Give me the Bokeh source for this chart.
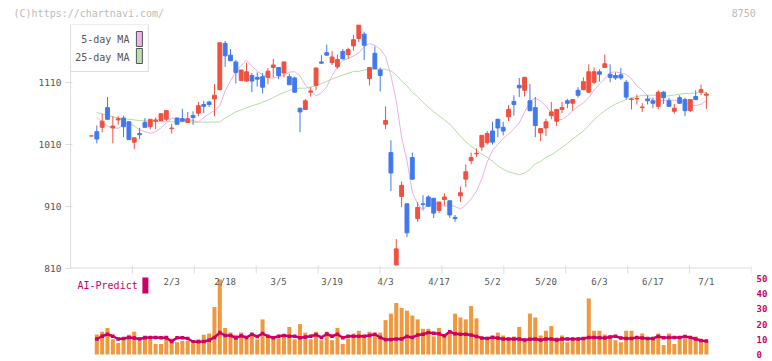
import numpy as np
import pandas as pd
from bokeh.plotting import figure
from bokeh.models import Range1d, LinearAxis, FixedTicker, Span, ColumnDataSource
from bokeh.core.properties import value
from bokeh.embed import file_html
from bokeh.resources import INLINE

nan = float("nan")

# ---------------- data ----------------
dates = ["1/10", "1/14", "1/15", "1/16", "1/17", "1/20", "1/21", "1/22", "1/23", "1/24",
         "1/27", "1/28", "1/29", "1/30", "1/31", "2/3", "2/4", "2/5", "2/6", "2/7",
         "2/10", "2/12", "2/13", "2/14", "2/17", "2/18", "2/19", "2/20", "2/21", "2/25",
         "2/26", "2/27", "2/28", "3/3", "3/4", "3/5", "3/6", "3/7", "3/10", "3/11",
         "3/12", "3/13", "3/14", "3/17", "3/18", "3/19", "3/21", "3/24", "3/25", "3/26",
         "3/27", "3/28", "3/31", "4/1", "4/2", "4/3", "4/4", "4/7", "4/8", "4/9",
         "4/10", "4/11", "4/14", "4/15", "4/16", "4/17", "4/18", "4/21", "4/22", "4/23",
         "4/24", "4/25", "4/28", "4/30", "5/1", "5/2", "5/7", "5/8", "5/9", "5/12",
         "5/13", "5/14", "5/15", "5/16", "5/19", "5/20", "5/21", "5/22", "5/23", "5/26",
         "5/27", "5/28", "5/29", "5/30", "6/2", "6/3", "6/4", "6/5", "6/6", "6/9",
         "6/10", "6/11", "6/12", "6/13", "6/16", "6/17", "6/18", "6/19", "6/20", "6/23",
         "6/24", "6/25", "6/26", "6/27", "6/30", "7/1"]

opens = [1024, 1031, 1038, 1070, 1037, 1050, 1053, 1047, 1014, 1028,
         1046, 1039, 1048, 1049, 1051, 1036, 1053, 1052, 1046, 1057,
         1061, 1075, 1079, 1084, 1099, 1174, 1155, 1144, 1114, 1113,
         1122, 1119, 1120, 1119, 1135, 1135, 1126, 1120, 1118, 1069,
         1067, 1095, 1106, 1144, 1159, 1143, 1136, 1161, 1156, 1170,
         1182, 1189, 1117, 1158, 1131, 1043, 997, 815, 926, 914,
         989, 890, 914, 925, 923, 903, 921, 919, 892, 927,
         954, 984, 995, 1006, 1013, 1032, 1051, 1038, 1055, 1080,
         1106, 1098, 1081, 1070, 1029, 1037, 1057, 1048, 1067, 1081,
         1077, 1098, 1099, 1095, 1111, 1128, 1135, 1124, 1122, 1123,
         1111, 1083, 1084, 1070, 1084, 1081, 1072, 1095, 1081, 1064,
         1086, 1083, 1065, 1088, 1095, 1090]

highs = [1024, 1041, 1060, 1087, 1056, 1056, 1057, 1048, 1021, 1037,
         1053, 1051, 1054, 1061, 1065, 1044, 1054, 1068, 1063, 1064,
         1079, 1081, 1081, 1108, 1175, 1178, 1165, 1147, 1131, 1143,
         1126, 1127, 1126, 1134, 1149, 1135, 1144, 1125, 1120, 1069,
         1084, 1103, 1135, 1155, 1172, 1162, 1156, 1165, 1167, 1188,
         1204, 1193, 1136, 1169, 1135, 1072, 1017, 857, 950, 914,
         997, 917, 928, 928, 923, 917, 931, 919, 896, 942,
         978, 997, 1004, 1025, 1032, 1047, 1052, 1047, 1074, 1090,
         1118, 1119, 1108, 1087, 1036, 1052, 1079, 1068, 1079, 1084,
         1083, 1103, 1119, 1140, 1135, 1132, 1156, 1140, 1127, 1134,
         1115, 1086, 1091, 1077, 1090, 1086, 1098, 1097, 1086, 1076,
         1090, 1086, 1083, 1098, 1107, 1095]

lows = [1024, 1012, 1030, 1051, 1012, 1042, 1022, 1018, 1003, 1019,
        1038, 1035, 1035, 1048, 1048, 1028, 1042, 1047, 1045, 1042,
        1056, 1061, 1071, 1056, 1098, 1136, 1145, 1109, 1113, 1112,
        1095, 1104, 1093, 1108, 1119, 1116, 1119, 1107, 1094, 1030,
        1066, 1088, 1098, 1141, 1154, 1139, 1133, 1148, 1149, 1162,
        1176, 1147, 1106, 1132, 1096, 1035, 935, 814, 909, 860,
        953, 885, 905, 909, 891, 899, 911, 891, 885, 917,
        941, 978, 990, 1000, 1010, 1010, 1022, 1025, 1048, 1057,
        1087, 1088, 1064, 1022, 1016, 1024, 1051, 1040, 1061, 1069,
        1065, 1086, 1098, 1094, 1108, 1112, 1134, 1111, 1115, 1115,
        1083, 1067, 1075, 1063, 1075, 1069, 1067, 1076, 1072, 1060,
        1076, 1056, 1063, 1082, 1090, 1068]

closes = [1024, 1019, 1048, 1051, 1040, 1052, 1039, 1018, 1021, 1026,
          1038, 1051, 1050, 1060, 1065, 1037, 1043, 1048, 1052, 1054,
          1073, 1072, 1075, 1090, 1175, 1154, 1146, 1127, 1131, 1128,
          1113, 1116, 1103, 1129, 1139, 1122, 1144, 1107, 1095, 1063,
          1081, 1097, 1134, 1142, 1155, 1152, 1148, 1149, 1164, 1180,
          1204, 1171, 1135, 1133, 1122, 1049, 964, 841, 944, 867,
          954, 908, 913, 910, 899, 917, 925, 896, 890, 932,
          966, 989, 996, 1025, 1028, 1014, 1037, 1032, 1067, 1075,
          1102, 1119, 1065, 1041, 1036, 1047, 1063, 1067, 1070, 1077,
          1083, 1090, 1112, 1128, 1128, 1124, 1141, 1119, 1118, 1118,
          1087, 1084, 1085, 1071, 1081, 1077, 1095, 1086, 1072, 1069,
          1077, 1065, 1083, 1083, 1099, 1092]

volume = [nan,
          13.1, 15, 17.5, 10, 7.5, 10, 13, 15, 8.8, 12.5,
          10, 6.9, 6.9, 12.5, 10.6, 8.1, 8.8, 8.8, 6.9, 10,
          13, 13.8, 31.3, 49.4, 17.5, 14.4, 13, 14.4, 11.2, 13.8,
          10, 23.1, 12.5, 11.2, 10.6, 13, 18.1, 10, 20, 14.4,
          10, 15, 9.4, 15, 9.4, 17.5, 6.9, 10.6, 13.8, 15.6,
          11.5, 15, 12.8, 14.4, 22.6, 26.9, 33.9, 30.6, 28.8, 25.6,
          23.1, 16.9, 16.9, 11.9, 17.5, 13.1, 15, 26.9, 24.4, 23.1,
          31.9, 23.8, 10, 10, 12.5, 14.4, 12.5, 10, 11.9, 18.1,
          8.8, 26.9, 24.4, 12.5, 15.6, 18.8, 11.2, 12.5, 8.1, 10,
          10, 11.2, 36.9, 15.6, 15.6, 13.1, 12.5, 9.4, 8.1, 15.6,
          15.6, 11.2, 13.8, 11.2, 10.6, 13.8, 6.2, 13.8, 6.9, 10.6,
          10.6, 10, 11.9, 8.8, 8.8]

ai_predict = [nan,
              10.2, 12, 13.3, 12, 10.2, 10.5, 11.2, 10.8, 10.2, 11,
              11.2, 11.2, 11, 11, 8.6, 11, 11, 10.5, 8.4, 8.4,
              8.6, 9.4, 11.2, 14.4, 12.5, 12.5, 10.9, 12.3, 11.2, 13.3,
              11.8, 13.8, 12, 11, 12, 12.5, 12, 12, 11, 11.5,
              12, 13, 11.2, 13.5, 12, 13.3, 11, 12, 12, 12,
              12, 12.5, 13.3, 11.2, 9.8, 9.8, 10.2, 10.2, 11.9, 11.2,
              12.8, 13.3, 14.4, 14, 13.6, 12.3, 15, 13.6, 13.3, 13.3,
              12.8, 11.9, 10.8, 10.6, 11.2, 10.8, 10.2, 10.2, 10.2, 10.2,
              9.6, 10, 10.2, 9.6, 10.2, 10.2, 9.6, 10.2, 10.2, 10.2,
              10.2, 10.5, 11.2, 11.2, 11, 10.8, 11.5, 12, 10.8, 10.6,
              10.6, 11.2, 10.8, 10.6, 10.6, 11.9, 11, 11.2, 11.2, 11.2,
              11.9, 11.2, 10.2, 9.2, 8.8]

# moving-average values for the first days (they depend on earlier history)
ma5_head = [1054, 1046, 1040, 1037]
ma25_head = [1062, 1060, 1057, 1055, 1053, 1052, 1051, 1050, 1049, 1048.5,
             1048, 1047.5, 1047.5, 1047, 1047, 1047, 1047, 1046.5, 1046.5, 1046.5,
             1046.5, 1046.5, 1046.5, 1046.5]

price_ticks = [810, 910, 1010, 1110]
volume_ticks = [0, 10, 20, 30, 40, 50]
legend_labels = ["5-day MA", "25-day MA"]
ai_label = "AI-Predict"
credit = "(C)https://chartnavi.com/"
stock_code = "8750"

# ---------------- derived series ----------------
n = len(dates)
idx = np.arange(n)
cs = pd.Series(closes, dtype=float)
ma5 = cs.rolling(5).mean().shift(1).to_numpy()
ma5[1:1 + len(ma5_head)] = ma5_head
ma25 = cs.rolling(25).mean().shift(1).to_numpy()
ma25[1:1 + len(ma25_head)] = ma25_head

RED, BLUE = "#f0503f", "#4079ef"
colors = [RED if c >= o else BLUE for o, c in zip(opens, closes)]

# ---------------- layout geometry (canvas pixels) ----------------
W, H = 770, 359
FL, FR, FT = 70, 18, 24          # frame left / right border, frame top
FW = W - FL - FR
STEP = 5.355                     # px per trading day
X0 = -21 / STEP                  # first candle sits 21 px right of the frame edge
X1 = X0 + FW / STEP
PY = 0.617                       # px per price unit
Y810 = 267.5                     # canvas y of the 810 level
YT = 810 + (Y810 - FT) / PY
YB = 810 - (H - Y810) / PY
V0 = 354                         # canvas y of volume 0
PV = 1.52                        # px per volume unit
VB = -(H - V0) / PV
VT = (V0 - FT) / PV


def xd(cx):
    return X0 + (cx - FL) / STEP


def yd(cy):
    return YT - (cy - FT) / PY


MONO = "DejaVu Sans Mono"

p = figure(width=W, height=H, x_range=Range1d(X0, X1), y_range=Range1d(YB, YT),
           output_backend="svg", toolbar_location=None,
           x_axis_location=None, y_axis_location=None,
           min_border_left=FL, min_border_right=FR, min_border_top=FT, min_border_bottom=0,
           background_fill_color="white", border_fill_color="white")
p.outline_line_color = None
p.grid.visible = False
p.extra_y_ranges = {"vol": Range1d(VB, VT)}

# left price axis
ya = LinearAxis(ticker=FixedTicker(ticks=price_ticks), bounds=(810, YT))
ya.axis_line_color = "#dddddd"
ya.major_tick_line_color = "#dddddd"
ya.major_tick_out = 5
ya.major_tick_in = 2
ya.minor_tick_line_color = None
ya.major_label_standoff = 4
ya.major_label_text_font = MONO
ya.major_label_text_font_size = "9.5px"
ya.major_label_text_color = "#555555"
p.add_layout(ya, "left")

# right volume axis
va = LinearAxis(y_range_name="vol", ticker=FixedTicker(ticks=volume_ticks))
va.axis_line_color = None
va.major_tick_line_color = None
va.minor_tick_line_color = None
va.major_tick_out = 0
va.major_tick_in = 0
va.major_label_standoff = 5
va.major_label_text_font = MONO
va.major_label_text_font_size = "9px"
va.major_label_text_font_style = "bold"
va.major_label_text_color = "#cc0066"
p.add_layout(va, "right")

# header texts (credit on the left, stock code on the right) as an unlined top axis
hdr_pos = [-0.5, 122]
ha = LinearAxis(ticker=FixedTicker(ticks=hdr_pos),
                major_label_overrides={hdr_pos[0]: credit, hdr_pos[1]: stock_code})
ha.axis_line_color = None
ha.major_tick_line_color = None
ha.minor_tick_line_color = None
ha.major_tick_out = 0
ha.major_tick_in = 0
ha.major_label_standoff = 6
ha.major_label_text_font = MONO
ha.major_label_text_font_size = "10px"
ha.major_label_text_color = "#bbbbbb"
p.add_layout(ha, "above")

src = ColumnDataSource(dict(
    x=idx, o=opens, h=highs, l=lows, c=closes,
    top=np.maximum(opens, closes), bot=np.minimum(opens, closes),
    color=colors, vol=volume, ai=ai_predict, ma5=ma5, ma25=ma25))

# volume + AI predict
p.vbar(x="x", width=0.75, bottom=0, top="vol", y_range_name="vol",
       fill_color="#f0983e", line_color=None, source=src)
p.line("x", "ai", y_range_name="vol", line_color="#cc0066", line_width=2.5, source=src)
p.scatter("x", "ai", y_range_name="vol", marker="square", size=3.5,
          fill_color="#cc0066", line_color=None, source=src)

# middle axis line with ticks and date labels
p.add_layout(Span(location=810, dimension="width", line_color="#dddddd", line_width=1))
tick_x = [X0 + k * (X1 - X0) / 11 for k in range(1, 12)]
p.segment(x0=tick_x, y0=[yd(265)] * len(tick_x), x1=tick_x, y1=[yd(273)] * len(tick_x),
          line_color="#dddddd", line_width=1)
lab_x = list(idx[15::10])
lab_t = dates[15::10]
p.text(x=lab_x, y=[yd(281)] * len(lab_x), text=lab_t, text_align="center",
       text_baseline="middle", text_font=value(MONO), text_font_size="9px",
       text_color="#555555")

# moving averages
p.line("x", "ma25", line_color="#b6dba6", line_width=1, source=src)
p.line("x", "ma5", line_color="#e6b2e6", line_width=1, source=src)

# candles
p.segment(x0="x", y0="h", x1="x", y1="l", line_color="color", line_width=1, source=src)
p.vbar(x="x", width=0.72, top="top", bottom="bot", fill_color="color",
       line_color="color", line_width=1, source=src)

# MA legend box
p.quad(left=xd(70), right=xd(148), top=yd(24), bottom=yd(71),
       fill_color="white", line_color="#dddddd", line_width=1)
p.text(x=[xd(129)] * 2, y=[yd(39), yd(57)], text=legend_labels, text_align="right",
       text_baseline="middle", text_font=value(MONO), text_font_size="10px",
       text_color="#555555")
p.quad(left=[xd(136)] * 2, right=[xd(142)] * 2, top=[yd(31), yd(48)], bottom=[yd(46), yd(63)],
       fill_color=["#eab6ea", "#bcdeb0"], line_color="#555555", line_width=1)

# AI-Predict label
p.text(x=[xd(77)], y=[yd(285)], text=[ai_label], text_align="left", text_baseline="middle",
       text_font=value(MONO), text_font_size="10px", text_color="#cc0066")
p.quad(left=xd(142), right=xd(148), top=yd(277), bottom=yd(293),
       fill_color="#cc0066", line_color=None)

open("out.html", "w").write(file_html(p, INLINE))
